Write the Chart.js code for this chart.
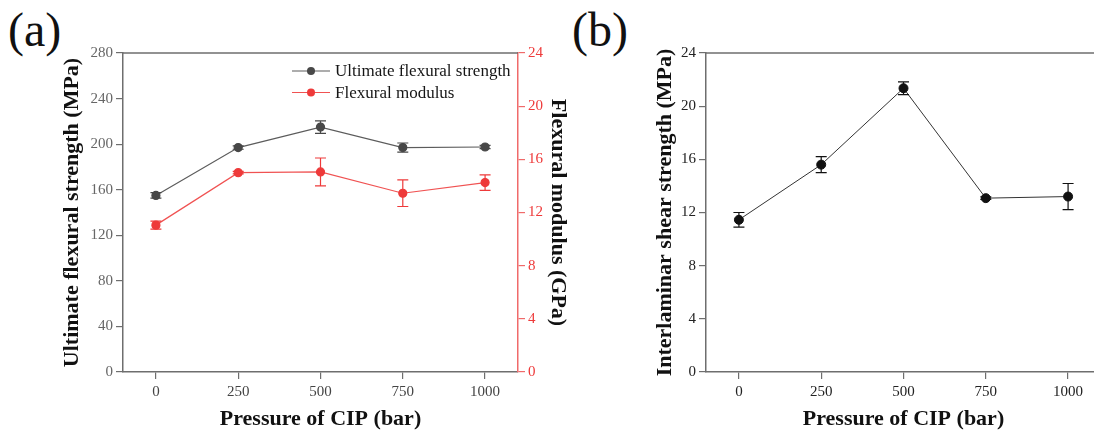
<!DOCTYPE html>
<html>
<head>
<meta charset="utf-8">
<script src="https://cdn.jsdelivr.net/npm/chart.js@4.4.1/dist/chart.umd.min.js"></script>
<style>
  html, body { margin: 0; padding: 0; background: #fff; }
  body { width: 1094px; height: 431px; overflow: hidden; position: relative; }
  canvas { position: absolute; top: 0; }
  .tag { position: absolute; top: 6px; font: 48px/48px "Liberation Serif", "Times New Roman", serif; color: #111; }
</style>
</head>
<body>
<div class="tag" style="left:8px">(a)</div>
<div class="tag" style="left:572px">(b)</div>
<canvas id="chartA" width="580" height="431" style="left:0"></canvas>
<canvas id="chartB" width="560" height="431" style="left:560px"></canvas>
<script>
// CIP pressure (bar)
const pressures = [0, 250, 500, 750, 1000];

// (a) flexural tests
const strength = [155, 197, 215, 197, 197.5];      // MPa
const strengthErr = [2.4, 1.5, 5.5, 4, 1.5];
const modulus = [11.05, 15.0, 15.05, 13.45, 14.25]; // GPa
const modulusErr = [0.3, 0.1, 1.05, 1.0, 0.58];

// (b) interlaminar shear
const ilss = [11.45, 15.6, 21.35, 13.08, 13.2];     // MPa
const ilssErr = [0.55, 0.6, 0.48, 0.1, 0.98];

const serif = '"Liberation Serif", "Times New Roman", serif';
const axisGray = '#6e6e6e';
const red = '#ee3a3a';

function points(ys) {
    return pressures.map((x, i) => ({ x: x, y: ys[i] }));
}

// vertical error bars with caps, drawn through the chart's scales
const errorBars = {
    id: 'errorBars',
    afterDatasetsDraw(chart) {
        const ctx = chart.ctx;
        chart.data.datasets.forEach(ds => {
            if (!ds.errors) return;
            const xs = chart.scales.x;
            const ys = chart.scales[ds.yAxisID || 'y'];
            ctx.save();
            ctx.strokeStyle = ds.pointBackgroundColor;
            ctx.lineWidth = 1.2;
            ds.data.forEach((p, i) => {
                const px = xs.getPixelForValue(p.x);
                const top = ys.getPixelForValue(p.y + ds.errors[i]);
                const bot = ys.getPixelForValue(p.y - ds.errors[i]);
                ctx.beginPath();
                ctx.moveTo(px, top); ctx.lineTo(px, bot);
                ctx.moveTo(px - 5.5, top); ctx.lineTo(px + 5.5, top);
                ctx.moveTo(px - 5.5, bot); ctx.lineTo(px + 5.5, bot);
                ctx.stroke();
            });
            ctx.restore();
        });
    }
};

// top edge of the plot frame
const topFrame = {
    id: 'topFrame',
    afterDraw(chart) {
        const a = chart.chartArea;
        const ctx = chart.ctx;
        ctx.save();
        ctx.strokeStyle = axisGray;
        ctx.lineWidth = 1.5;
        ctx.beginPath();
        ctx.moveTo(a.left, a.top);
        ctx.lineTo(a.right, a.top);
        ctx.stroke();
        ctx.restore();
    }
};

// legend inside the plot: short line with a dot, then the label
const lineLegend = {
    id: 'lineLegend',
    afterDraw(chart, args, opts) {
        if (!opts.show) return;
        const ctx = chart.ctx;
        ctx.save();
        ctx.font = '17px ' + serif;
        ctx.textBaseline = 'middle';
        chart.data.datasets.forEach((ds, i) => {
            const y = opts.y + i * opts.rowGap;
            ctx.strokeStyle = ds.borderColor;
            ctx.lineWidth = 1.2;
            ctx.beginPath();
            ctx.moveTo(opts.x, y); ctx.lineTo(opts.x + 38, y);
            ctx.stroke();
            ctx.fillStyle = ds.pointBackgroundColor;
            ctx.beginPath();
            ctx.arc(opts.x + 19, y, 4, 0, Math.PI * 2);
            ctx.fill();
            ctx.fillStyle = '#151515';
            ctx.fillText(ds.label, opts.x + 43, y + 1);
        });
        ctx.restore();
    }
};

function xAxis(labelColor) {
    return {
        type: 'linear',
        min: -100,
        max: 1100,
        afterBuildTicks: s => { s.ticks = pressures.map(v => ({ value: v })); },
        afterFit: s => { s.height = 59; },
        ticks: { font: { family: serif, size: 15 }, color: labelColor, padding: 4, maxRotation: 0,
                 callback: v => String(v) },
        grid: { drawOnChartArea: false, tickLength: 7, color: axisGray, lineWidth: 1.2 },
        border: { color: axisGray, width: 1.5 },
        title: {
            display: true,
            text: 'Pressure of CIP (bar)',
            color: '#111',
            font: { family: serif, size: 22, weight: 'bold', lineHeight: 1.1 },
            padding: { top: 0, bottom: 0 }
        }
    };
}

function yAxis(opts) {
    return {
        position: opts.position,
        min: 0,
        max: opts.max,
        afterFit: s => { s.width = opts.width; },
        ticks: { stepSize: opts.step, font: { family: serif, size: 15 }, color: opts.labelColor, padding: 3,
                 callback: v => String(v) },
        grid: { drawOnChartArea: false, tickLength: 7, color: opts.lineColor, lineWidth: 1.2 },
        border: { color: opts.lineColor, width: 1.5 },
        title: {
            display: true,
            text: opts.title,
            color: '#111',
            font: { family: serif, size: 22, weight: 'bold', lineHeight: 1.1 },
            padding: { top: opts.titleGap, bottom: 0 }
        }
    };
}

const common = {
    responsive: false,
    animation: false,
    events: [],
    devicePixelRatio: 1,
    plugins: { legend: { display: false }, tooltip: { enabled: false } }
};

new Chart(document.getElementById('chartA'), {
    type: 'line',
    data: {
        datasets: [{
            label: 'Ultimate flexural strength',
            data: points(strength),
            errors: strengthErr,
            yAxisID: 'y',
            borderColor: '#5c5c5c',
            borderWidth: 1.2,
            pointBackgroundColor: '#484848',
            pointBorderColor: '#484848',
            pointRadius: 4,
            tension: 0
        }, {
            label: 'Flexural modulus',
            data: points(modulus),
            errors: modulusErr,
            yAxisID: 'y2',
            borderColor: '#f05252',
            borderWidth: 1.2,
            pointBackgroundColor: red,
            pointBorderColor: red,
            pointRadius: 4,
            tension: 0
        }]
    },
    options: Object.assign({}, common, {
        layout: { padding: { top: 53, left: 0, right: 0, bottom: 0 } },
        plugins: Object.assign({}, common.plugins, {
            lineLegend: { show: true, x: 292, y: 71, rowGap: 21.5 }
        }),
        scales: {
            x: xAxis('#444'),
            y: yAxis({ position: 'left', max: 280, step: 40, width: 123, titleGap: 60,
                       labelColor: '#666', lineColor: axisGray, title: 'Ultimate flexural strength (MPa)' }),
            y2: yAxis({ position: 'right', max: 24, step: 4, width: 62, titleGap: 10,
                        labelColor: red, lineColor: '#f06a6a', title: 'Flexural modulus (GPa)' })
        }
    }),
    plugins: [errorBars, topFrame, lineLegend]
});

new Chart(document.getElementById('chartB'), {
    type: 'line',
    data: {
        datasets: [{
            label: 'Interlaminar shear strength',
            data: points(ilss),
            errors: ilssErr,
            yAxisID: 'y',
            borderColor: '#333',
            borderWidth: 1,
            pointBackgroundColor: '#111',
            pointBorderColor: '#111',
            pointRadius: 4.5,
            tension: 0
        }]
    },
    options: Object.assign({}, common, {
        layout: { padding: { top: 53, left: 0, right: 19, bottom: 0 } },
        scales: {
            x: xAxis('#222'),
            y: yAxis({ position: 'left', max: 24, step: 4, width: 146, titleGap: 93,
                       labelColor: '#222', lineColor: axisGray, title: 'Interlaminar shear strength (MPa)' })
        }
    }),
    plugins: [errorBars, topFrame]
});
</script>
</body>
</html>
